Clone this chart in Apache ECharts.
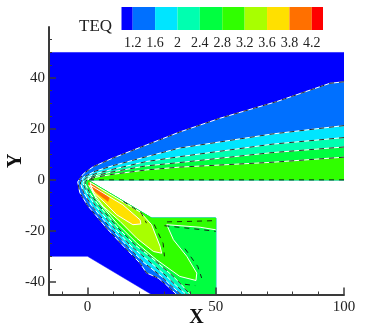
<!DOCTYPE html>
<html>
<head>
<meta charset="utf-8">
<style>
  html, body { margin: 0; padding: 0; background: #fff; }
  #chart { width: 374px; height: 332px; }
</style>
<script src="https://cdn.jsdelivr.net/npm/echarts@6/dist/echarts.min.js"></script>
</head>
<body>
<div id="chart"></div>
<script>
const legendTicks = ['1.2', '1.6', '2', '2.4', '2.8', '3.2', '3.6', '3.8', '4.2']
const bandColors = ['#0000ff', '#0070ff', '#00e5ff', '#00ffb0', '#00ff40', '#30ff00', '#a8ff00', '#ffe000', '#ff7000', '#ff0000']

const xMajor = [0, 50, 100]
const xMinor = [-10, 10, 20, 30, 40, 60, 70, 80, 90]
const yMajor = [-40, -20, 0, 20, 40]
const yMinor = [55, 50, 45, 35, 30, 25, 15, 10, 5, -5, -10, -15, -25, -30, -35]

// body outline of the flow domain, continues behind every band
const domain = [[-15, 50], [100, 50], [100, 0], [0, 0], [25, -15], [50, -15], [50, -45], [25, -45], [0, -30], [-15, -30]]
const bodyEdge = [[100, 0], [0, 0], [25, -15], [50, -15], [50, -45]]

// contour levels, running from the right edge round the nose to the bottom
const contour1 = [[100, 38.5], [94.5, 37.9], [73.7, 30.7], [51.7, 24.2], [36, 18.8], [23, 13.7], [10, 8.6], [2.3, 5.2], [-1.6, 2.4], [-3.8, -0.8], [-3, -5], [0, -10], [7.5, -19], [14, -26], [20.5, -32.7], [23, -36.5], [27.6, -38.6], [30.5, -41], [34.8, -45]]
const contour2 = [[100, 21.3], [72, 18], [36, 12.5], [23, 9.1], [10, 5.6], [3, 3.4], [-1.6, 1], [-2.8, -1.2], [-1.5, -5], [1.5, -10], [9, -19], [15.5, -26], [22, -32.5], [29, -38], [32, -41], [36.5, -45]]
const contour3 = [[100, 16.6], [72, 14], [36, 9.1], [23, 7.2], [10, 4.2], [3, 2.4], [-0.8, 0.6], [-1.8, -1.2], [-0.3, -5], [3, -10], [10.5, -19], [17, -26], [23.5, -31.5], [31, -38], [34, -41], [38.5, -45]]
const contour4 = [[100, 12.9], [72, 10.7], [36, 6.8], [23, 5.5], [10, 3.2], [3, 1.6], [0, 0.4], [-1, -1.2], [0.8, -5], [4, -9.5], [12, -19], [18.5, -25.5], [25.5, -31], [33, -37.5], [36.5, -41], [40, -45]]
const contour5Upper = [[100, 8.9], [72, 6.9], [36, 5], [23, 3.9], [10, 2.2], [3, 1], [0, 0]]
const contour5Lower = [[50, -19.6], [43.9, -18.6], [30.9, -17.6], [33.5, -23.5], [38.7, -30], [42.6, -36.6], [42.3, -39.5], [36, -37.9], [27, -31.4], [19.2, -24.8], [11.4, -17], [3.6, -7.8], [0.5, -2]]
const contour6 = [[1, -1], [20.5, -12.6], [25, -17.6], [28.3, -26.1], [28.9, -28.8], [25.7, -28.1], [19.2, -22.9], [12.7, -16.3], [6.2, -10.5], [2.3, -5.2], [1, -1]]
const contour7 = [[1, -2], [7.5, -6], [13.8, -9.8], [20.5, -15.7], [20.8, -17.3], [17.7, -17.6], [11.4, -13.7], [6.8, -9], [2.9, -5.4], [1, -2]]
const contour8 = [[0.5, -1], [3, -2.5], [8.5, -7], [8, -8.5], [4, -5.5], [0.5, -2.5], [0.5, -1]]

// black dashes that sit just outside the white lines in the lower lobe
const dashLobeA = [[31, -16.5], [40, -16.3], [50, -16]]
const dashLobeB = [[30, -18], [44, -19.5], [50, -20.2]]
const dashLobeC = [[38, -27], [43, -34], [44.5, -38.5]]
const dashLobeD = [[38, -41], [42, -41.5]]
const dashLobeE = [[26, -17.5], [29.5, -25], [30, -30]]
const dashLobeF = [[14, -8.5], [21, -13], [23, -17]]

const upperLower = (line) => line.concat(bodyEdge.slice().reverse())

const polygons = [
  { pts: domain, color: bandColors[0] },
  { pts: upperLower(contour1), color: bandColors[1] },
  { pts: upperLower(contour2), color: bandColors[2] },
  { pts: upperLower(contour3), color: bandColors[3] },
  { pts: upperLower(contour4), color: bandColors[4] },
  { pts: contour5Upper.concat([[100, 0]]), color: bandColors[5] },
  { pts: contour5Lower.concat([[0, 0], [25, -15], [50, -15]]), color: bandColors[5] },
  { pts: contour6, color: bandColors[6] },
  { pts: contour7, color: bandColors[7] },
  { pts: contour8, color: bandColors[8] },
]

const polygonSeries = polygons.map((p) => ({
  type: 'custom',
  silent: true,
  clip: true,
  z: 2,
  data: [p.pts[0]],
  renderItem: (params, api) => ({
    type: 'polygon',
    shape: { points: p.pts.map((pt) => api.coord(pt)) },
    style: { fill: p.color, stroke: p.color, lineWidth: 0.5 },
  }),
}))

const lineSeries = (pts, color, dash, width) => ({
  type: 'line',
  data: pts,
  silent: true,
  showSymbol: false,
  z: 3,
  lineStyle: { color, width, type: dash ? [5, 5] : 'solid' },
})

const whiteLines = [contour1, contour2, contour3, contour4, contour5Upper, contour5Lower, contour6, contour7]
const dashLines = [contour1, contour2, contour3, contour4, contour5Upper, bodyEdge.slice(0, 2), dashLobeA, dashLobeB, dashLobeC, dashLobeD, dashLobeE, dashLobeF]

const legendSeries = {
  type: 'custom',
  silent: true,
  xAxisIndex: 2,
  yAxisIndex: 2,
  data: bandColors.map((c, i) => [i, 0]),
  renderItem: (params, api) => {
    const i = params.dataIndex
    const a = api.coord([Math.max(i - 1, -0.5), 1])
    const b = api.coord([Math.min(i, 8.5), 0])
    return {
      type: 'rect',
      shape: { x: a[0], y: a[1], width: b[0] - a[0], height: b[1] - a[1] },
      style: { fill: bandColors[i] },
    }
  },
}

const font = 'Liberation Serif'
const axisColor = '#3a3a3a'

const chart = echarts.init(document.getElementById('chart'), null, { renderer: 'canvas' })
chart.setOption({
  animation: false,
  backgroundColor: '#fff',
  title: {
    text: 'TEQ',
    left: 74,
    top: 13,
    textStyle: { fontFamily: font, fontSize: 17, fontWeight: 'normal', color: '#222' },
  },
  grid: [
    { left: 49, top: 27, width: 295, height: 267.5, outerBoundsMode: 'none' },
    { left: 121.5, top: 7, width: 201.5, height: 23, outerBoundsMode: 'none' },
  ],
  xAxis: [
    {
      type: 'value', min: -15, max: 100, z: 5,
      name: 'X', nameLocation: 'middle', nameGap: 13, nameMoveOverlap: false,
      nameTextStyle: { fontFamily: font, fontSize: 20, fontWeight: 'bold', color: '#111' },
      splitLine: { show: false },
      axisLine: { onZero: false, lineStyle: { color: axisColor, width: 2 } },
      axisTick: { inside: true, length: 7, customValues: xMajor, lineStyle: { color: axisColor, width: 1.5 } },
      axisLabel: { customValues: xMajor, margin: 5, fontFamily: font, fontSize: 15, color: '#222' },
    },
    {
      type: 'value', min: -15, max: 100, z: 5,
      position: 'bottom',
      splitLine: { show: false },
      axisLine: { show: false, onZero: false },
      axisTick: { inside: true, length: 3, customValues: xMinor, lineStyle: { color: axisColor, width: 1 } },
      axisLabel: { show: false },
    },
    {
      type: 'value', gridIndex: 1, min: -0.5, max: 8.5,
      splitLine: { show: false },
      axisLine: { show: false },
      axisTick: { show: false },
      axisLabel: {
        customValues: legendTicks.map((t, i) => i),
        formatter: (v) => legendTicks[v],
        margin: 6, fontFamily: font, fontSize: 14, color: '#222', hideOverlap: false,
      },
    },
  ],
  yAxis: [
    {
      type: 'value', min: -45, max: 60, z: 5,
      name: 'Y', nameLocation: 'middle', nameGap: 23, nameRotate: 90, nameMoveOverlap: false,
      nameTextStyle: { fontFamily: font, fontSize: 20, fontWeight: 'bold', color: '#111' },
      splitLine: { show: false },
      axisLine: { onZero: false, lineStyle: { color: axisColor, width: 2 } },
      axisTick: { inside: true, length: 7, customValues: yMajor, lineStyle: { color: axisColor, width: 1.5 } },
      axisLabel: { customValues: yMajor, margin: 4, fontFamily: font, fontSize: 15, color: '#222' },
    },
    {
      type: 'value', min: -45, max: 60, z: 5,
      position: 'left',
      splitLine: { show: false },
      axisLine: { show: false, onZero: false },
      axisTick: { inside: true, length: 3, customValues: yMinor, lineStyle: { color: axisColor, width: 1 } },
      axisLabel: { show: false },
    },
    { type: 'value', gridIndex: 1, min: 0, max: 1, show: false },
  ],
  series: [
    ...polygonSeries,
    ...whiteLines.map((l) => lineSeries(l, '#ffffff', false, 1)),
    ...dashLines.map((l) => lineSeries(l, '#111111', true, 0.9)),
    legendSeries,
  ],
})
</script>
</body>
</html>
